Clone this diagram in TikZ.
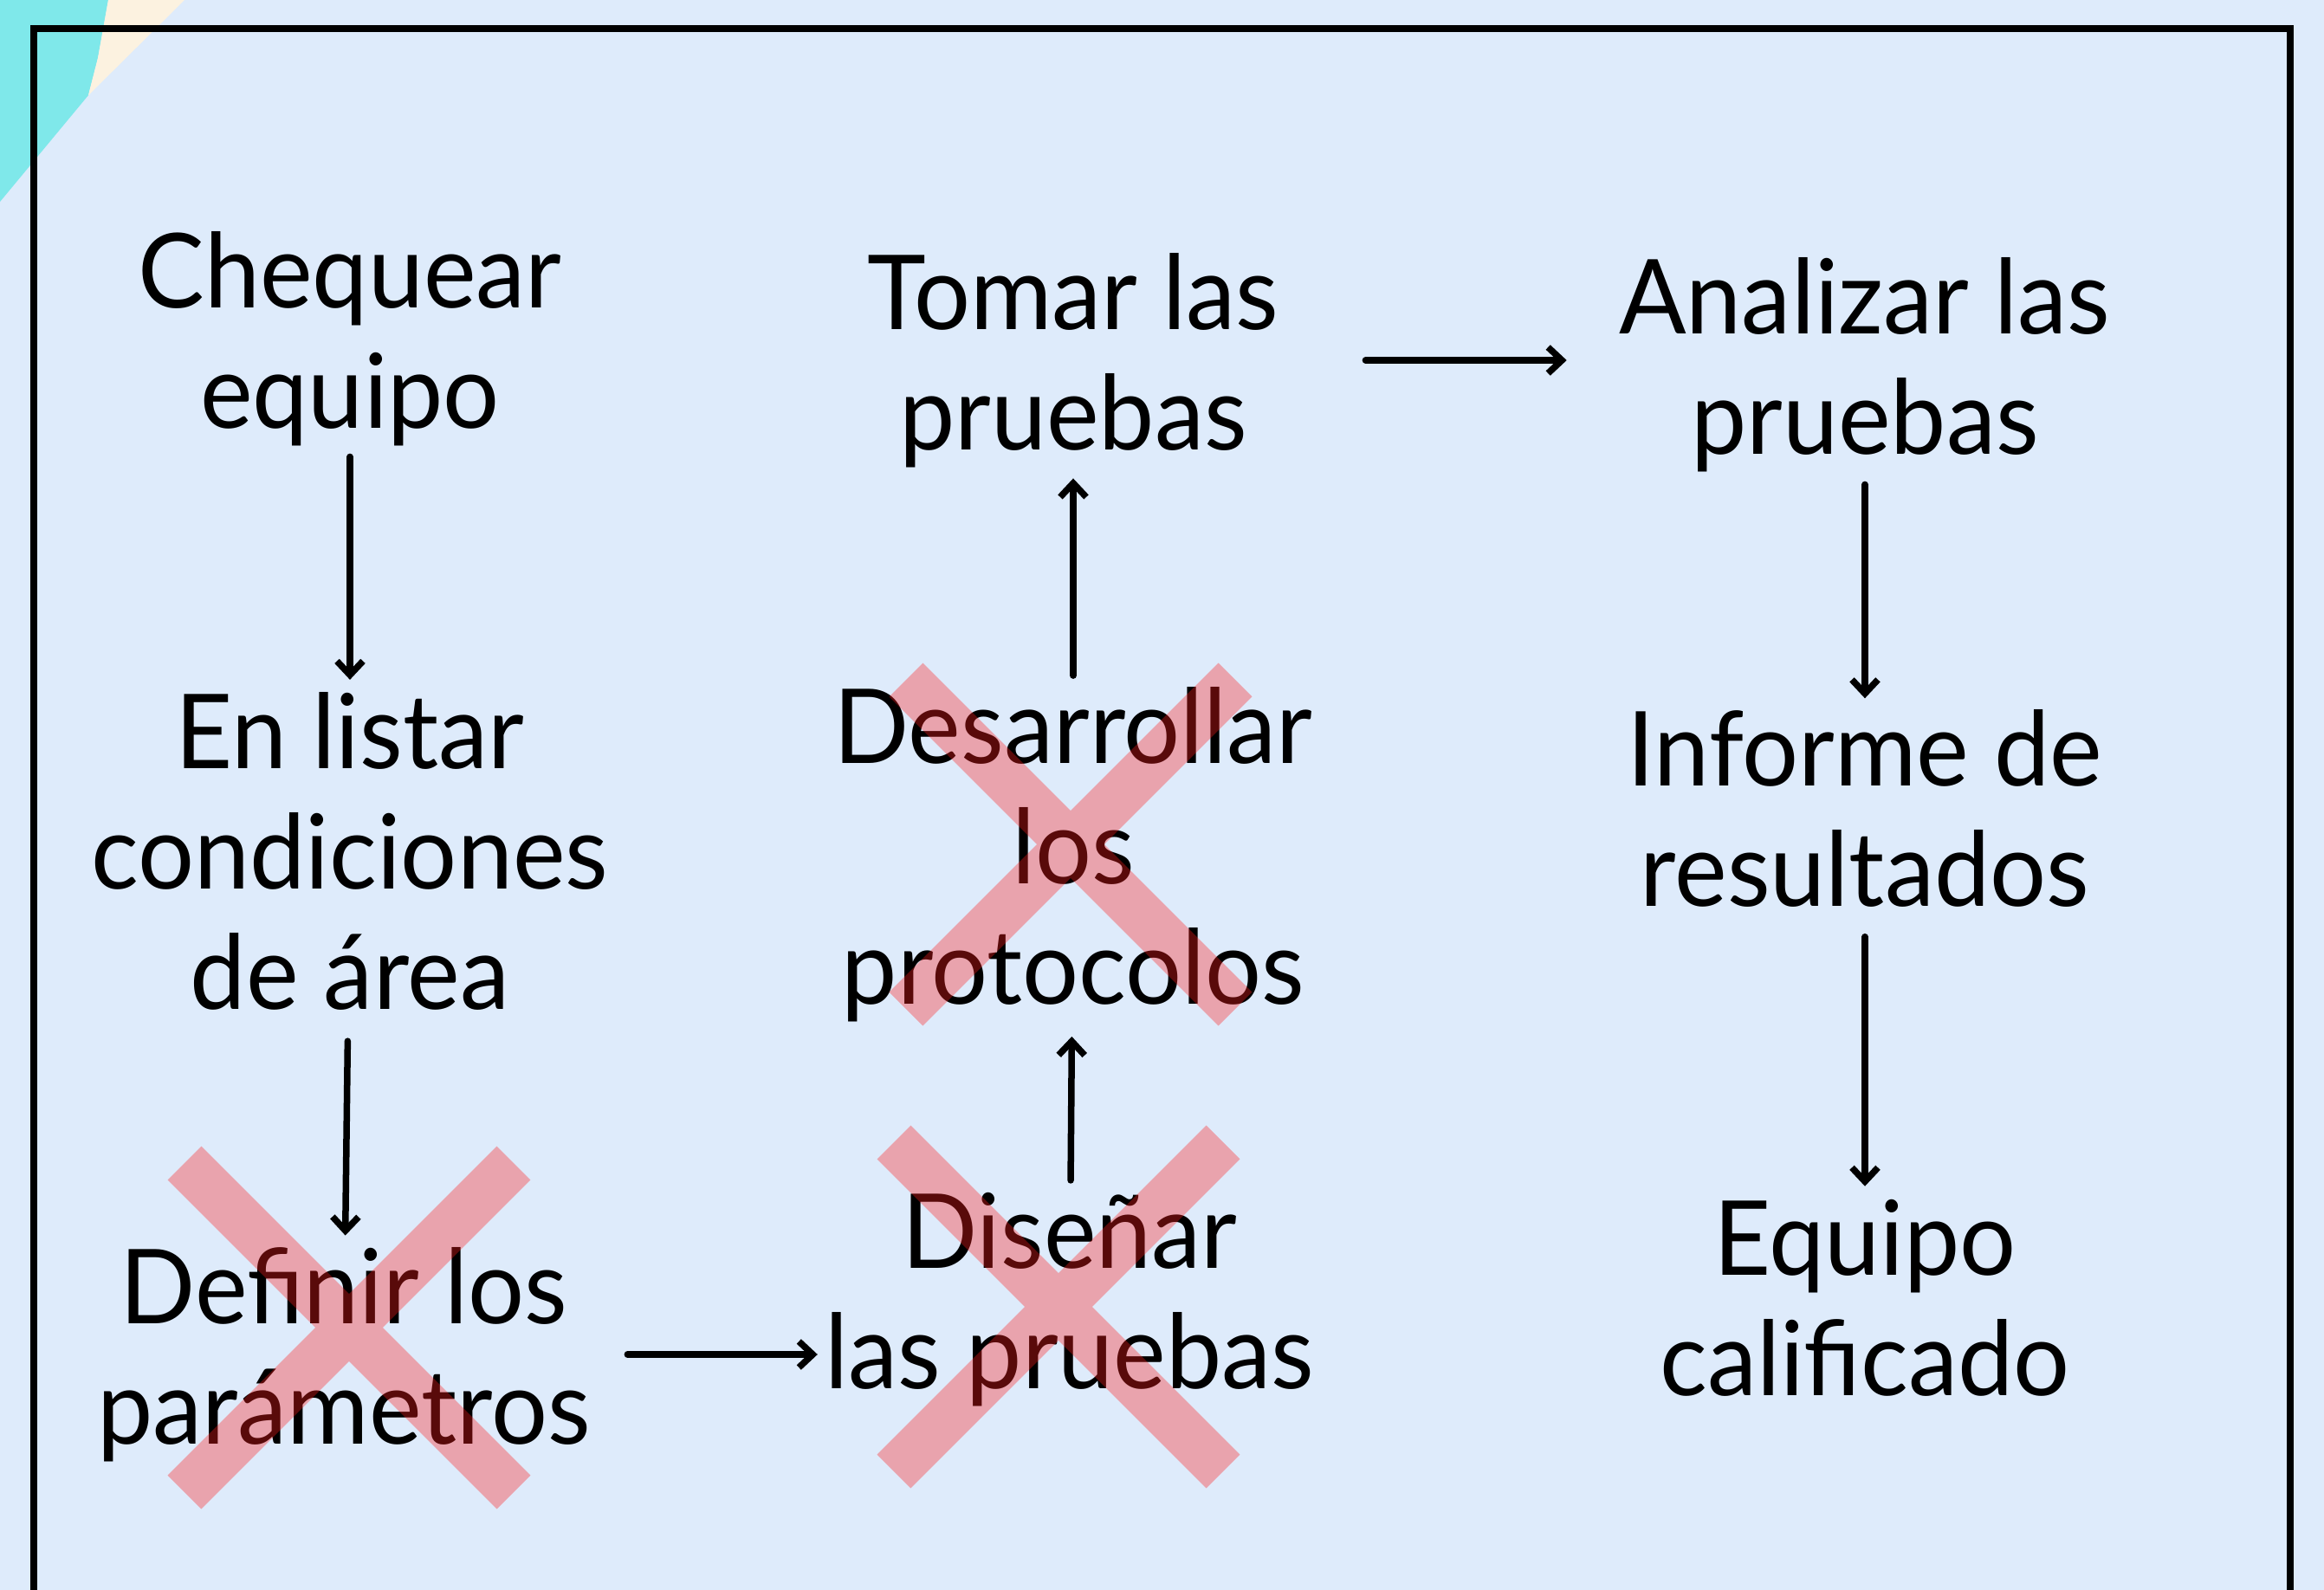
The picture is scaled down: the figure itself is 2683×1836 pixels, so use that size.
\documentclass[tikz,border=0pt]{standalone}
\usepackage{fontspec}
\setmainfont{Lato}[FakeStretch=0.96]
\usetikzlibrary{arrows.meta}

\definecolor{fondo}{HTML}{DEEBFB}
\definecolor{turquesa}{HTML}{7FE8EA}
\definecolor{crema}{HTML}{FCF2E0}
\definecolor{tachado}{HTML}{FF1E1E}

\begin{document}
\begin{tikzpicture}
  [x=0.01cm,y=-0.01cm,
   every node/.style={align=center,inner sep=0pt,font=\fontsize{34}{39.5}\selectfont},
   flecha/.style={-{Straight Barb[length=1.6mm,width=3mm]},line width=0.75mm,line cap=round,line join=round},
   cruz/.style={draw=tachado,line width=5.5mm,opacity=0.35}]
  \useasboundingbox (0,0) rectangle (2683,1836);
  \clip (0,0) rectangle (2683,1836);
  % fondo y esquina
  \fill[fondo] (0,0) rectangle (2683,1836);
  \fill[turquesa] (0,0) -- (125,0) -- (113,67) -- (102,110) -- (0,233) -- cycle;
  \fill[crema] (125,0) -- (213,0) -- (102,110) -- (113,67) -- cycle;
  \draw[line width=2.3pt] (39,33) rectangle (2644,1900);
  % pasos
  \node (chequear) at (404,391) {Chequear\\equipo};
  \node (tomar) at (1239,416) {Tomar las\\pruebas};
  \node (analizar) at (2153,421) {Analizar las\\pruebas};
  \node (enlistar) at (404,983) {En listar\\condiciones\\de área};
  \node (desarrollar) at (1239,987) {Desarrollar\\los\\protocolos};
  \node (informe) at (2153,933) {Informe de\\resultados};
  \node (definir) at (397,1564) {Definir los\\parámetros};
  \node (disenar) at (1235,1501) {Diseñar\\las pruebas};
  \node (equipo) at (2153,1499) {Equipo\\calificado};
  % flechas
  \foreach \from/\to/\a/\b in {chequear/enlistar/1.2/1.4,enlistar/definir/3.5/1.3,
      disenar/desarrollar/1.4/1.6,desarrollar/tomar/1.3/1.2,
      analizar/informe/1.4/1.2,informe/equipo/3.4/1.5}
    \draw[flecha,shorten <=\a mm,shorten >=\b mm] (\from) -- (\to);
  \draw[flecha,shorten <=4.2mm,shorten >=0.8mm] (definir.east) -- (definir.east -| disenar.west);
  \draw[flecha,shorten <=9.9mm,shorten >=6mm] (tomar.east) -- (tomar.east -| analizar.west);
  % tachados
  \foreach \c in {(403,1533),(1236,975),(1222,1509)}
    \draw[cruz] \c +(-190,-190) -- +(190,190) \c +(-190,190) -- +(190,-190);
\end{tikzpicture}
\end{document}
